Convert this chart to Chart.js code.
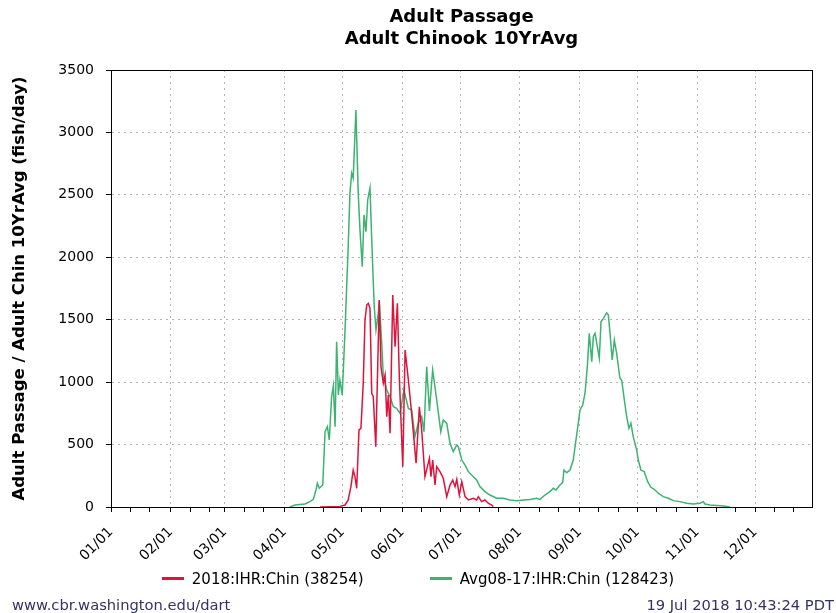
<!DOCTYPE html>
<html>
<head>
<meta charset="utf-8">
<title>Adult Passage</title>
<script src="https://cdn.jsdelivr.net/npm/chart.js@4.4.1/dist/chart.umd.min.js"></script>
<style>
  body { margin: 0; background: #fff; }
  #wrap { position: relative; width: 836px; height: 613px; font-family: "DejaVu Sans", sans-serif; }
  #legend { position: absolute; left: 0; top: 566px; width: 836px; text-align: center; font-size: 15px; color: #000; }
  .item { display: inline-flex; align-items: center; margin: 0 33px; }
  .swatch { display: inline-block; width: 22px; height: 3px; margin-right: 8px; }
  .foot { position: absolute; top: 596px; font-size: 14.7px; color: #333366; }
</style>
</head>
<body>
<div id="wrap">
  <canvas id="passage-chart" width="836" height="613"></canvas>
  <div id="legend"></div>
  <div class="foot" style="left: 12px;">www.cbr.washington.edu/dart</div>
  <div class="foot" style="right: 2px;">19 Jul 2018 10:43:24 PDT</div>
</div>
<script>
// x axis = day of year, 0 = Jan 1
const monthLabels = ['01/01','02/01','03/01','04/01','05/01','06/01','07/01','08/01','09/01','10/01','11/01','12/01']
const monthStartDays = [0, 31, 59, 90, 120, 151, 181, 212, 243, 273, 304, 334]
const yTickValues = [0, 500, 1000, 1500, 2000, 2500, 3000, 3500]

const seriesLabels = ['2018:IHR:Chin (38254)', 'Avg08-17:IHR:Chin (128423)']
const seriesColors = ['#dc143c', '#3cb371']

// 2018 counts (fish/day)
const redDays = [108.4, 118.7, 121.3, 123.0, 124.4, 125.6, 126.5, 127.4, 128.6, 129.6, 130.8, 131.7, 132.6, 133.4, 134.3,
  135.2, 136.0, 137.3, 138.3, 139.1, 140.0, 141.2, 142.1, 143.0, 143.8, 144.7, 146.1, 147.3, 148.5, 149.5,
  151.3, 152.5, 154.2, 155.9, 158.2, 159.9, 161.1, 162.8, 165.1, 165.9, 166.8, 168.0, 168.9, 170.6, 172.3,
  174.1, 175.8, 177.2, 178.4, 179.3, 180.6, 181.9, 183.6, 185.3, 187.9, 189.6, 190.5, 192.2, 193.9, 195.6,
  197.4, 198.2]
const redCounts = [0, 5, 16, 56, 163, 296, 243, 150, 617, 630, 991, 1498, 1618, 1631, 1591,
  911, 883, 483, 1124, 1658, 1124, 991, 1057, 723, 897, 590, 1698, 1284, 1631, 1044,
  323, 1257, 1017, 750, 350, 803, 617, 243, 390, 243, 376, 176, 323, 283, 230,
  83, 176, 216, 163, 222, 96, 203, 83, 56, 70, 56, 83, 43, 56, 30,
  16, 3]

// 10 year average 2008-2017 (fish/day)
const greenDays = [92.8, 95.4, 100.6, 103.2, 104.9, 106.3, 107.0, 108.0, 109.8, 111.0, 112.2, 113.2, 114.4, 115.3,
  116.2, 117.0, 117.9, 118.7, 119.9, 121.3, 123.0, 123.9, 124.8, 125.6, 127.0, 128.2, 129.1, 130.3,
  131.2, 132.2, 133.1, 134.3, 135.2, 136.5, 137.4, 138.6, 139.1, 140.4, 141.2, 143.0, 144.7, 146.4,
  148.1, 149.9, 151.9, 154.2, 155.9, 157.6, 159.3, 161.1, 162.3, 163.7, 165.1, 166.8, 168.9, 171.0,
  172.3, 174.1, 175.8, 177.5, 179.3, 180.1, 181.9, 183.6, 185.3, 187.9, 189.6, 191.3, 193.9, 196.5,
  200.0, 203.4, 206.9, 210.4, 213.8, 217.3, 220.7, 222.5, 225.0, 227.6, 229.4, 230.8, 232.8, 234.2,
  234.9, 236.3, 238.0, 239.7, 241.1, 242.3, 243.2, 244.6, 245.8, 247.0, 248.0, 249.3, 250.1, 251.0,
  252.2, 253.2, 254.1, 255.3, 257.0, 257.9, 258.7, 259.9, 261.0, 262.2, 263.9, 264.8, 266.2, 267.4,
  268.6, 269.6, 270.8, 272.6, 273.4, 274.8, 276.5, 278.3, 280.0, 281.7, 283.8, 286.4, 289.0, 291.6,
  295.0, 298.5, 302.0, 305.4, 307.1, 308.0, 310.6, 314.1, 317.5, 321.0]
const greenCounts = [0, 16, 24, 43, 61, 136, 190, 150, 176, 603, 643, 537, 883, 969,
  643, 1324, 897, 1017, 897, 1393, 2085, 2514, 2674, 2634, 3180, 2514, 2218, 1925,
  2339, 2205, 2459, 2555, 2138, 1604, 1418, 1553, 1650, 1311, 1044, 937, 883, 803,
  790, 750, 937, 790, 777, 563, 670, 723, 603, 1124, 770, 1097, 857, 603,
  697, 670, 510, 443, 497, 483, 376, 336, 283, 243, 216, 163, 123, 96,
  70, 70, 56, 51, 56, 61, 70, 61, 96, 123, 150, 136, 176, 195,
  296, 275, 296, 376, 537, 670, 777, 817, 911, 1124, 1391, 1164, 1364, 1391,
  1284, 1191, 1484, 1511, 1556, 1538, 1404, 1177, 1337, 1231, 1031, 1017, 857, 723,
  630, 670, 563, 456, 376, 296, 283, 203, 158, 142, 110, 83, 70, 51,
  43, 30, 24, 30, 43, 24, 16, 13, 8, 0]

// tick marks on the 1st, 11th and 21st, label only on the 1st
const tickDays = []
monthStartDays.forEach(d => { tickDays.push(d, d + 10, d + 20) })

function toPoints(days, counts){
    return days.map((d, i) => ({x: d, y: counts[i]}))
}

const fontFamily = '"DejaVu Sans", sans-serif'

const frame = {
    id: 'frame',
    afterDatasetsDraw(chart){
        const {ctx, chartArea} = chart
        ctx.save()
        ctx.strokeStyle = '#000'
        ctx.lineWidth = 1
        ctx.strokeRect(Math.round(chartArea.left) + 0.5, Math.round(chartArea.top) + 0.5,
            Math.round(chartArea.right - chartArea.left), Math.round(chartArea.bottom - chartArea.top))
        ctx.restore()
    }
}

const canvas = document.getElementById('passage-chart')

const passageChart = new Chart(canvas, {
    type: 'line',
    data: {
        datasets: [
            {
                label: seriesLabels[0],
                data: toPoints(redDays, redCounts),
                borderColor: seriesColors[0],
                backgroundColor: seriesColors[0]
            },
            {
                label: seriesLabels[1],
                data: toPoints(greenDays, greenCounts),
                borderColor: seriesColors[1],
                backgroundColor: seriesColors[1]
            }
        ]
    },
    options: {
        responsive: false,
        animation: false,
        events: [],
        layout: {padding: {left: 0, right: 24, top: 0, bottom: 36}},
        elements: {
            line: {borderWidth: 1.5, tension: 0},
            point: {radius: 0}
        },
        plugins: {
            legend: {display: false},
            tooltip: {enabled: false},
            title: {
                display: true,
                fullSize: false,
                text: ['Adult Passage', 'Adult Chinook 10YrAvg'],
                color: '#000',
                font: {family: fontFamily, size: 18, weight: 'bold', lineHeight: 22 / 18},
                padding: {top: 6, bottom: 20}
            }
        },
        scales: {
            x: {
                type: 'linear',
                min: 0,
                max: 363.5,
                afterBuildTicks: (scale) => { scale.ticks = tickDays.map(v => ({value: v})) },
                afterFit: (scale) => { scale.height = 70 },
                ticks: {
                    autoSkip: false,
                    maxRotation: 45,
                    minRotation: 45,
                    padding: 12,
                    color: '#000',
                    font: {family: fontFamily, size: 14},
                    callback: (value) => {
                        let idx = monthStartDays.indexOf(value)
                        return idx >= 0 ? monthLabels[idx] : ''
                    }
                },
                grid: {
                    color: (c) => (c.tick && monthStartDays.includes(c.tick.value)) ? '#b4b4b4' : 'rgba(0,0,0,0)',
                    tickColor: '#000',
                    tickLength: 5
                },
                border: {display: true, color: '#000', width: 1, dash: [2, 4]}
            },
            y: {
                min: 0,
                max: 3500,
                afterBuildTicks: (scale) => { scale.ticks = yTickValues.map(v => ({value: v})) },
                afterFit: (scale) => { scale.width = 111 },
                ticks: {
                    padding: 12,
                    color: '#000',
                    font: {family: fontFamily, size: 14},
                    callback: (value) => String(value)
                },
                grid: {
                    color: '#b4b4b4',
                    tickColor: '#000',
                    tickLength: 5
                },
                border: {display: true, color: '#000', width: 1, dash: [2, 4]},
                title: {
                    display: true,
                    text: 'Adult Passage / Adult Chin 10YrAvg (fish/day)',
                    color: '#000',
                    font: {family: fontFamily, size: 16.5, weight: 'bold'},
                    padding: {top: 10, bottom: 0}
                }
            }
        }
    },
    plugins: [frame]
})

// legend built from the datasets
let legendBox = document.getElementById('legend')
passageChart.data.datasets.forEach(ds => {
    let item = document.createElement('span')
    item.className = 'item'
    let swatch = document.createElement('span')
    swatch.className = 'swatch'
    swatch.style.background = ds.borderColor
    item.appendChild(swatch)
    item.appendChild(document.createTextNode(ds.label))
    legendBox.appendChild(item)
})
</script>
</body>
</html>
